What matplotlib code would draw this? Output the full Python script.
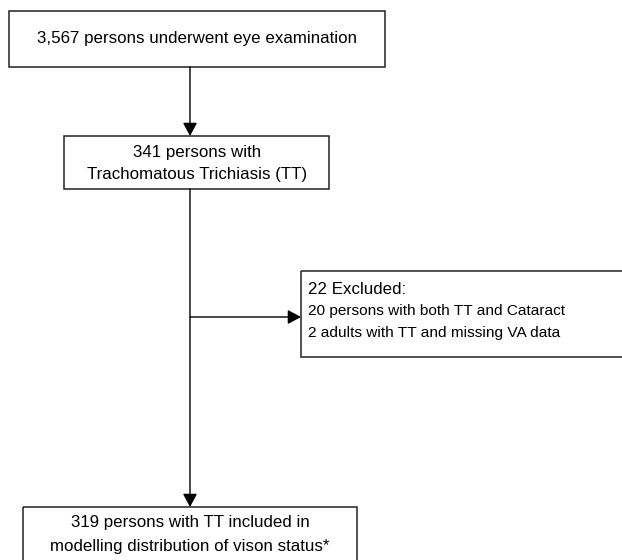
import matplotlib.pyplot as plt
from matplotlib.patches import Rectangle, FancyArrowPatch

# Flowchart texts
top_text = ["3,567 persons underwent eye examination"]
tt_text = ["341 persons with", "Trachomatous Trichiasis (TT)"]
excl_title = "22 Excluded:"
excl_lines = ["20 persons with both TT and Cataract",
              "2 adults with TT and missing VA data"]
final_text = ["319 persons with TT included in",
              "modelling distribution of vison status*"]

plt.rcParams['font.family'] = ['Liberation Sans', 'DejaVu Sans']

fig = plt.figure(figsize=(6.22, 5.6), dpi=100)
ax = fig.add_axes([0, 0, 1, 1])
ax.set_xlim(0, 622)
ax.set_ylim(560, 0)
ax.axis("off")

edge = "#222222"


def box(x0, y0, x1, y1):
    ax.add_patch(Rectangle((x0, y0), x1 - x0, y1 - y0, fill=False,
                           edgecolor=edge, linewidth=1.1))


def arrow(p0, p1):
    ax.add_patch(FancyArrowPatch(p0, p1, arrowstyle="-|>,head_length=0.8,head_width=0.43",
                                 mutation_scale=10, color="black", linewidth=1.0,
                                 shrinkA=0, shrinkB=0))


# boxes
box(9, 11, 385, 67)
box(64, 136, 329, 189)
box(301, 271, 640, 357)
box(23, 507, 357, 600)

# connectors
arrow((190, 67), (190, 136))
arrow((190, 189), (190, 507))
arrow((190, 317), (301, 317))

# texts
ax.text(197, 38, top_text[0], ha="center", va="center", fontsize=12.2)
for i, t in enumerate(tt_text):
    ax.text(197, 153 + 22 * i, t, ha="center", va="center", fontsize=12.2)
ax.text(308, 289, excl_title, ha="left", va="center", fontsize=12.2)
for i, t in enumerate(excl_lines):
    ax.text(308, 311 + 22 * i, t, ha="left", va="center", fontsize=11.1)
for i, t in enumerate(final_text):
    ax.text(190, 523 + 23 * i, t, ha="center", va="center", fontsize=12.2)

plt.savefig("out.png", dpi=100)
